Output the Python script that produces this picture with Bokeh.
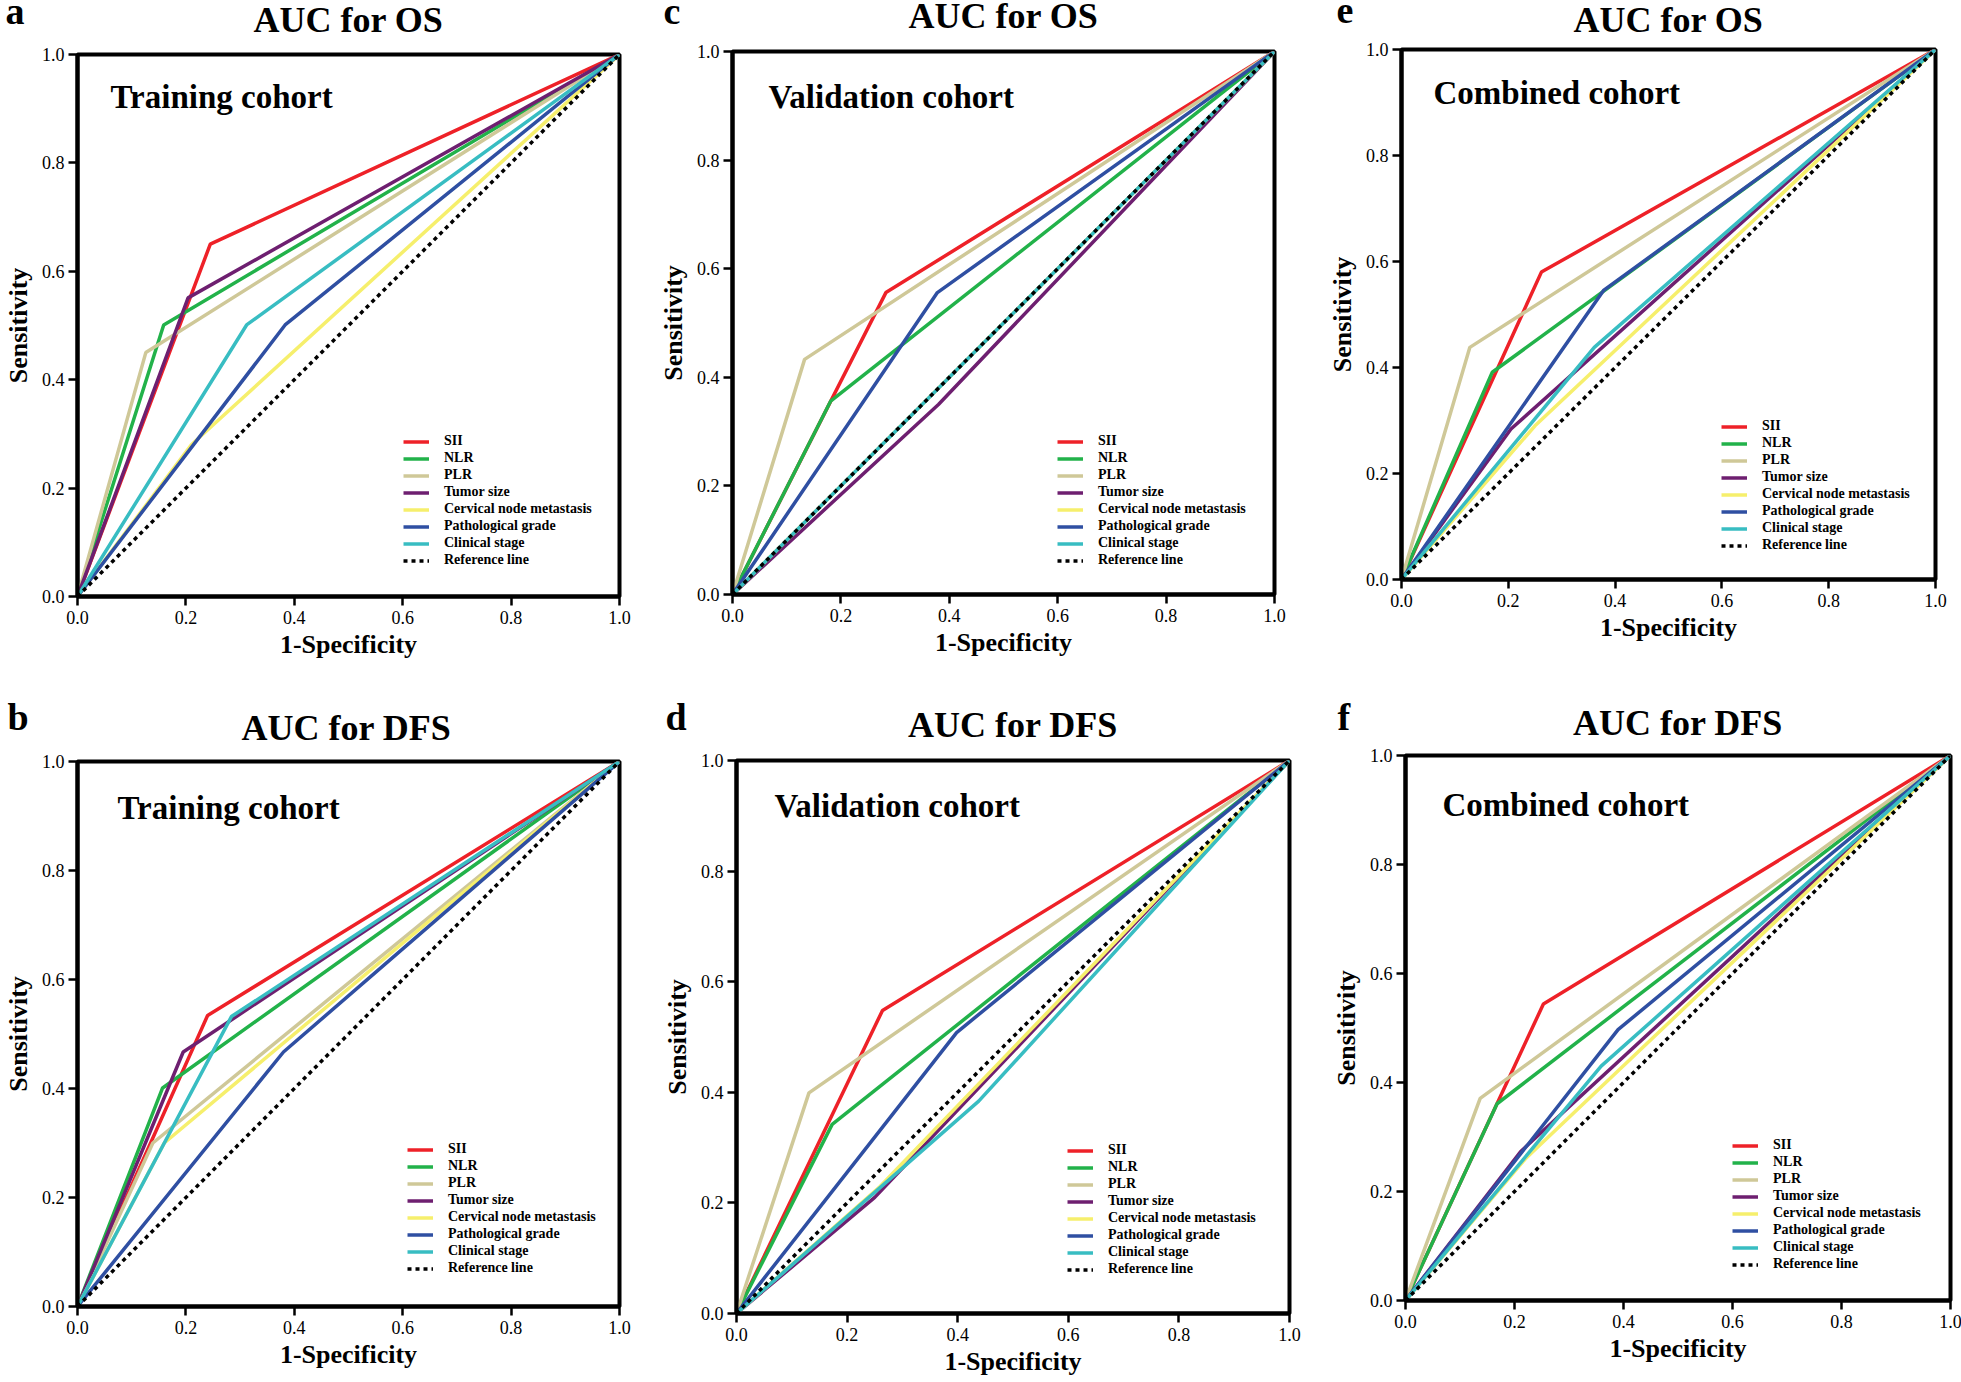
from bokeh.plotting import figure
from bokeh.layouts import column, row
from bokeh.models import Range1d, Label, Legend, LegendItem, PrintfTickFormatter, FixedTicker
from bokeh.core.properties import value
from bokeh.embed import file_html
from bokeh.resources import INLINE

# ---------------- data ----------------
markers = ["SII", "NLR", "PLR", "Tumor size", "Cervical node metastasis",
           "Pathological grade", "Clinical stage"]
colors = ["#EE2128", "#22B24A", "#CFC898", "#6E1F70", "#F6EF6C", "#2F4FA2", "#38BDC2"]

ticks = [0.0, 0.2, 0.4, 0.6, 0.8, 1.0]

# cut-off point (1-specificity, sensitivity) of each marker, in markers' order
os_train_fpr = [0.245, 0.159, 0.126, 0.204, 0.210, 0.383, 0.312]
os_train_tpr = [0.650, 0.501, 0.450, 0.551, 0.280, 0.501, 0.501]

os_valid_fpr = [0.283, 0.181, 0.133, 0.380, 0.500, 0.378, 0.500]
os_valid_tpr = [0.556, 0.356, 0.433, 0.350, 0.500, 0.556, 0.500]

os_comb_fpr = [0.262, 0.170, 0.128, 0.205, 0.250, 0.379, 0.361]
os_comb_tpr = [0.580, 0.391, 0.438, 0.284, 0.290, 0.546, 0.438]

dfs_train_fpr = [0.240, 0.157, 0.139, 0.195, 0.160, 0.380, 0.284]
dfs_train_tpr = [0.534, 0.401, 0.300, 0.467, 0.300, 0.467, 0.532]

dfs_valid_fpr = [0.264, 0.173, 0.131, 0.250, 0.260, 0.398, 0.438]
dfs_valid_tpr = [0.548, 0.342, 0.399, 0.210, 0.230, 0.508, 0.384]

dfs_comb_fpr = [0.253, 0.168, 0.137, 0.211, 0.220, 0.390, 0.359]
dfs_comb_tpr = [0.544, 0.361, 0.371, 0.273, 0.260, 0.497, 0.430]

reference_x = [0.0, 1.0]
reference_y = [0.0, 1.0]

SERIF = "Liberation Serif"
T_MAIN = 13
LEG_ROW = 17
BASE_FIX = 11   # renderer draws alphabetic-baseline text this much lower


def header(letter, title, W, L, FW, h, letter_x, letter_base, title_base):
    hp = figure(width=W, height=h, x_range=Range1d(0, W), y_range=Range1d(0, h),
                output_backend="svg", toolbar_location=None, title=None,
                x_axis_type=None, y_axis_type=None, frame_align=False,
                min_border_left=0, min_border_right=0, min_border_top=0, min_border_bottom=0)
    hp.grid.visible = False
    hp.outline_line_color = None
    hp.background_fill_color = "white"
    hp.border_fill_color = "white"
    hp.text(x=[letter_x], y=[h - (letter_base - BASE_FIX)], text=[letter],
            text_font=value(SERIF), text_font_style="bold", text_font_size="38px",
            text_align="left", text_baseline="alphabetic", text_color="black")
    hp.text(x=[L + FW / 2], y=[h - (title_base - BASE_FIX)], text=[title],
            text_font=value(SERIF), text_font_style="bold", text_font_size="36px",
            text_align="center", text_baseline="alphabetic", text_color="black")
    return hp


def make_panel(letter, title, cohort, fpr, tpr, L, FW, R, T, FH, B,
               letter_x, letter_base, title_base, cohort_dx, cohort_down, leg_dx, leg_down):
    W = L + FW + R
    hh = T - T_MAIN
    hp = header(letter, title, W, L, FW, hh, letter_x, letter_base, title_base)

    p = figure(frame_width=FW, frame_height=FH, x_range=Range1d(0, 1), y_range=Range1d(0, 1),
               output_backend="svg", toolbar_location=None, title=None, frame_align=False,
               min_border_left=L, min_border_right=R, min_border_top=T_MAIN,
               min_border_bottom=B)
    p.grid.visible = False
    p.background_fill_color = "white"
    p.border_fill_color = "white"
    p.outline_line_color = "black"
    p.outline_line_width = 4
    p.outline_line_alpha = 1.0

    for ax in (p.xaxis[0], p.yaxis[0]):
        ax.ticker = FixedTicker(ticks=ticks)
        ax.formatter = PrintfTickFormatter(format="%.1f")
        ax.major_label_text_font = SERIF
        ax.major_label_text_font_size = "18px"
        ax.major_label_text_color = "black"
        ax.axis_line_width = 4
        ax.axis_line_color = "black"
        ax.major_tick_line_width = 2.5
        ax.major_tick_line_color = "black"
        ax.major_tick_out = 9
        ax.major_tick_in = 0
        ax.minor_tick_out = 0
        ax.minor_tick_in = 0
        ax.axis_label_text_font = SERIF
        ax.axis_label_text_font_style = "bold"
        ax.axis_label_text_font_size = "26px"
        ax.axis_label_text_color = "black"
    p.xaxis.axis_label = "1-Specificity"
    p.yaxis.axis_label = "Sensitivity"
    p.xaxis.major_label_standoff = 5
    p.yaxis.major_label_standoff = 4
    p.xaxis.axis_label_standoff = 3
    p.yaxis.axis_label_standoff = 6

    items = []
    for name, col, fx, ty in zip(markers, colors, fpr, tpr):
        r = p.line([0.0, fx, 1.0], [0.0, ty, 1.0], line_color=col, line_width=3.5)
        items.append(LegendItem(label=name, renderers=[r]))
    rr = p.line(reference_x, reference_y, line_color="black", line_width=3.5, line_dash="4 4")
    items.append(LegendItem(label="Reference line", renderers=[rr]))

    n = len(items)
    leg_bottom_from_top = leg_down - LEG_ROW / 2 + n * LEG_ROW
    leg = Legend(items=items, location=(leg_dx, FH - leg_bottom_from_top),
                 padding=0, margin=0, spacing=0, label_height=LEG_ROW, glyph_height=LEG_ROW,
                 glyph_width=26, label_standoff=15,
                 label_text_font=SERIF, label_text_font_style="bold",
                 label_text_font_size="14px", label_text_color="black",
                 border_line_alpha=0, background_fill_alpha=0)
    p.add_layout(leg)

    p.add_layout(Label(x=cohort_dx, y=FH - (cohort_down - BASE_FIX), x_units="screen",
                       y_units="screen",
                       text=cohort, text_align="left", text_baseline="alphabetic",
                       text_font=SERIF, text_font_style="bold", text_font_size="33px",
                       text_color="black"))
    return column(hp, p, spacing=0)


#                                                        L   FW   R   T   FH   B
pa = make_panel("a", "AUC for OS", "Training cohort", os_train_fpr, os_train_tpr,
                77, 542, 35, 54, 542, 94, 5, 21, 30, 33, 53, 326, 387)
pc = make_panel("c", "AUC for OS", "Validation cohort", os_valid_fpr, os_valid_tpr,
                78, 542, 34, 51, 543, 96, 9, 21, 26, 36, 56, 325, 390)
pe = make_panel("e", "AUC for OS", "Combined cohort", os_comb_fpr, os_comb_tpr,
                93, 534, 25, 49, 530, 111, 28, 21, 30, 32, 54, 320, 377)
pb = make_panel("b", "AUC for DFS", "Training cohort", dfs_train_fpr, dfs_train_tpr,
                75, 542, 37, 71, 545, 75, 7, 37, 48, 40, 57, 330, 388)
pd = make_panel("d", "AUC for DFS", "Validation cohort", dfs_valid_fpr, dfs_valid_tpr,
                80, 553, 21, 70, 553, 68, 9, 37, 45, 38, 56, 331, 390)
pf = make_panel("f", "AUC for DFS", "Combined cohort", dfs_comb_fpr, dfs_comb_tpr,
                95, 545, 12, 65, 545, 81, 27, 37, 43, 37, 60, 327, 390)

layout = column(row(pa, pc, pe, spacing=0), row(pb, pd, pf, spacing=0), spacing=0)

open("out.html", "w").write(file_html(layout, INLINE))
